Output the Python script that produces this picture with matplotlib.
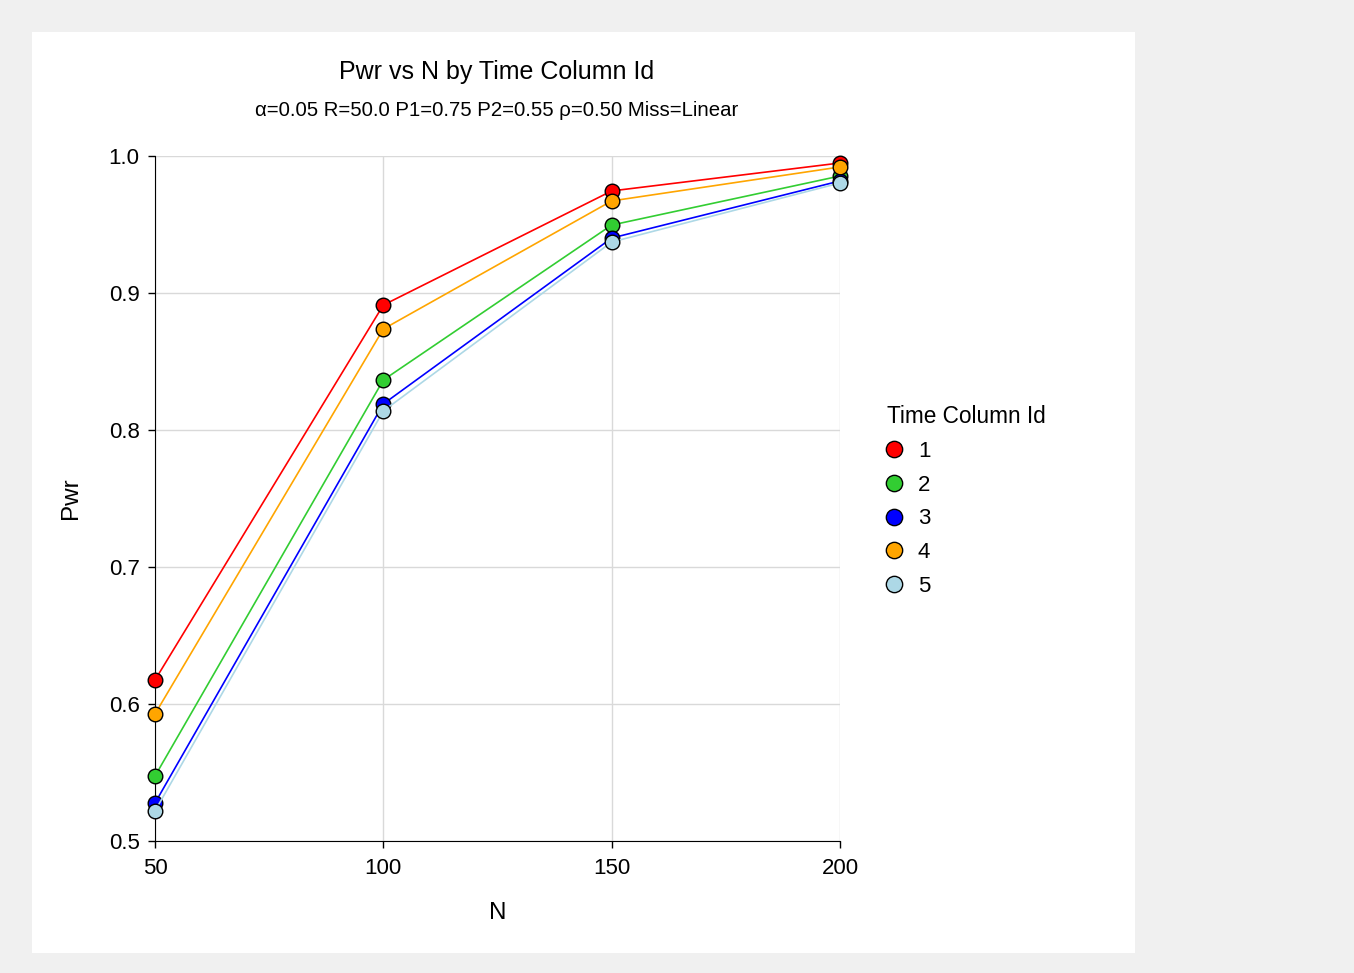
import numpy as np
import matplotlib.pyplot as plt
from matplotlib.patches import Rectangle

plt.rcParams['font.family'] = ['Liberation Sans', 'DejaVu Sans']

# data
n_values = [50, 100, 150, 200]
group_ids = ['1', '2', '3', '4', '5']
colors = ['red', 'limegreen', 'blue', 'orange', 'lightblue']
pwr = {
    '1': [0.6175, 0.8912, 0.9745, 0.9949],
    '2': [0.5474, 0.8365, 0.9496, 0.9854],
    '3': [0.5277, 0.8190, 0.9401, 0.9818],
    '4': [0.5927, 0.8737, 0.9672, 0.9920],
    '5': [0.5219, 0.8139, 0.9372, 0.9803],
}

fig = plt.figure(figsize=(13.54, 9.73), dpi=100)
fig.patch.set_facecolor('#f0f0f0')
# white panel
fig.add_artist(Rectangle((32 / 1354, 1 - 953 / 973), (1135 - 32) / 1354, (953 - 32) / 973,
                         transform=fig.transFigure, facecolor='white', edgecolor='none', zorder=-10))

ax = fig.add_axes([155 / 1354, 1 - 841 / 973, (840 - 155) / 1354, (841 - 156) / 973])
ax.set_facecolor('white')

for gid, c in zip(group_ids, colors):
    ax.plot(n_values, pwr[gid], color=c, lw=1.2, marker='o', markersize=10.5,
            markerfacecolor=c, markeredgecolor='black', markeredgewidth=1.0,
            label=gid, clip_on=False, zorder=3)

ax.set_xlim(50, 200)
ax.set_ylim(0.5, 1.0)
ax.set_xticks(n_values)
ax.set_yticks(np.arange(0.5, 1.01, 0.1))
ax.set_yticklabels(['0.5', '0.6', '0.7', '0.8', '0.9', '1.0'])
ax.grid(True, color='#d9d9d9', lw=1.0)
ax.set_axisbelow(True)
for s in ['top', 'right']:
    ax.spines[s].set_visible(False)
ax.tick_params(labelsize=16, length=5, width=1, direction='out')
ax.tick_params(axis='x', pad=7)
ax.tick_params(axis='y', pad=6)

ax.set_xlabel('N', fontsize=17.5, labelpad=17)
ax.set_ylabel('Pwr', fontsize=17.5, labelpad=19)

fig.text(497 / 1354, 1 - 72 / 973, 'Pwr vs N by Time Column Id', fontsize=18,
         ha='center', va='center')
fig.text(497 / 1354, 1 - 111 / 973, 'α=0.05 R=50.0 P1=0.75 P2=0.55 ρ=0.50 Miss=Linear',
         fontsize=14.7, ha='center', va='center')

leg = ax.legend(title='Time Column Id', loc='upper left', bbox_to_anchor=(1.04, 0.665),
                frameon=False, fontsize=16, title_fontsize=16.3, handlelength=0.6,
                handletextpad=0.77, labelspacing=0.57, markerscale=1.12)
leg._legend_box.align = 'left'
for h in leg.legend_handles:
    h.set_linestyle('none')

fig.savefig('out.png', dpi=100, facecolor=fig.get_facecolor())
